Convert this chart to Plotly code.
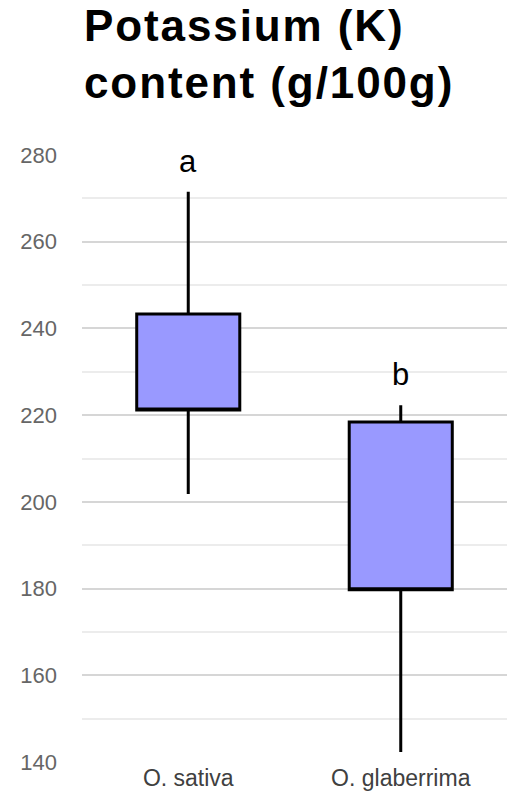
import plotly.graph_objects as go

# Box summary statistics (g/100g)
species = ["O. sativa", "O. glaberrima"]
q1 = [221.2, 179.7]
q3 = [243.3, 218.4]
medians = [221.2, 179.7]
lower_fence = [201.8, 142.3]
upper_fence = [271.5, 222.3]
group_letters = ["a", "b"]

y_ticks = [140, 160, 180, 200, 220, 240, 260, 280]

FONT = "Liberation Sans, Arial, sans-serif"
W, H = 507, 805
M_L, M_R, M_T, M_B = 82, 0, 155, 43
plot_h = H - M_T - M_B

fig = go.Figure()
fig.add_trace(go.Box(
    x=species,
    q1=q1,
    median=medians,
    q3=q3,
    lowerfence=lower_fence,
    upperfence=upper_fence,
    fillcolor="#9999FF",
    line=dict(color="black", width=3),
    width=0.485,
    whiskerwidth=0,
    boxpoints=False,
    hoverinfo="skip",
    showlegend=False,
))

# Significance letters above each upper whisker
for sp, top, letter in zip(species, upper_fence, group_letters):
    fig.add_annotation(
        x=sp, y=top, text=letter, showarrow=False,
        yanchor="bottom", yshift=11,
        font=dict(family=FONT, size=31, color="black"),
    )

# Two-line bold heading, left-aligned with the plot area
heading = ('<span style="letter-spacing:1.9px"><b>Potassium (K)<br>'
           'content (g/100g)</b></span>')
fig.add_annotation(
    xref="paper", yref="paper",
    x=0, y=1 + (M_T + 1) / plot_h,
    xanchor="left", yanchor="top", align="left",
    text=heading,
    showarrow=False,
    font=dict(family=FONT, size=44, color="black"),
)

fig.update_layout(
    width=W, height=H,
    margin=dict(l=M_L, r=M_R, t=M_T, b=M_B),
    paper_bgcolor="white",
    plot_bgcolor="white",
    xaxis=dict(
        type="category",
        range=[-0.5, 1.5],
        showgrid=False, showline=False, zeroline=False,
        ticks="",
        tickfont=dict(family=FONT, size=23, color="#404040"),
    ),
    yaxis=dict(
        range=[140, 280],
        tickvals=y_ticks,
        showgrid=True, gridcolor="#d6d6d6", gridwidth=2,
        minor=dict(dtick=10, showgrid=True, gridcolor="#ececec", gridwidth=2),
        showline=False, zeroline=False,
        ticks="", ticklabelstandoff=24,
        tickfont=dict(family=FONT, size=22, color="#666666"),
    ),
)

fig.write_html("out.html")
